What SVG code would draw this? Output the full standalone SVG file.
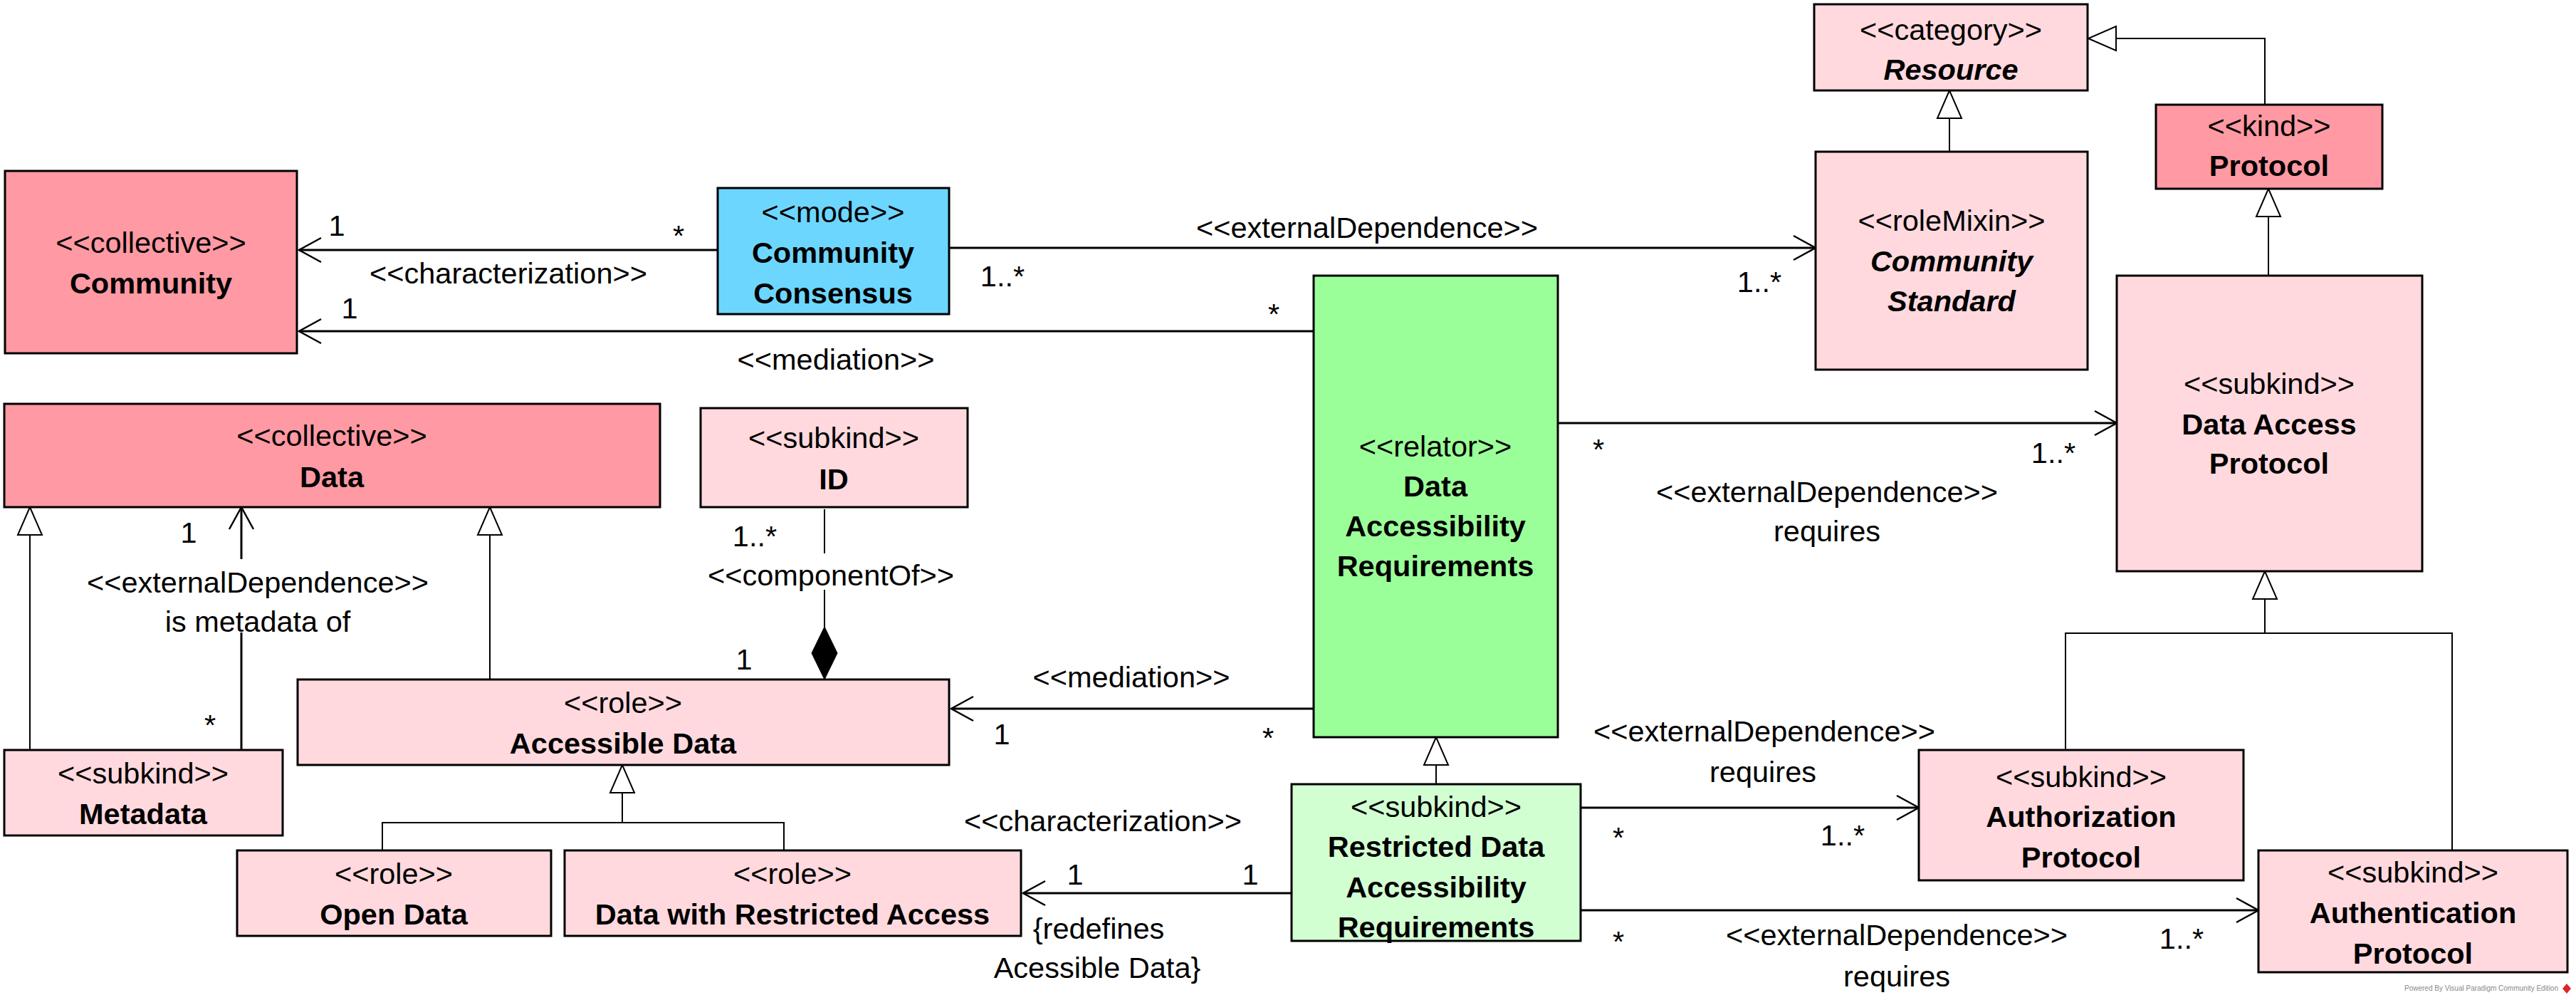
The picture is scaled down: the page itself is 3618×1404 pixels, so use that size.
<svg xmlns="http://www.w3.org/2000/svg" width="3618" height="1404" viewBox="0 0 3618 1404">
<style>
text{font-family:"Liberation Sans",Arial,Helvetica,sans-serif;font-size:41.5px;fill:#000}
.c{text-anchor:middle}
.b{font-weight:bold}
.bi{font-weight:bold;font-style:italic}
.box{stroke:#000;stroke-width:3}
.salmon{fill:#FF99A3}
.pink{fill:#FFD9DE}
.blue{fill:#6DD6FF}
.green{fill:#9BFF99}
.lgreen{fill:#D2FFD2}
.assoc{fill:none;stroke:#000;stroke-width:3}
.gen{fill:none;stroke:#000;stroke-width:2}
.wm{font-size:10px;fill:#8a8a8a;text-anchor:end}
</style>
<defs>
<marker id="open" markerUnits="userSpaceOnUse" orient="auto" overflow="visible" refX="0" refY="0" markerWidth="1" markerHeight="1">
<path d="M-31,-17 L0,0 L-31,17" fill="none" stroke="#000" stroke-width="2.5"/>
</marker>
<marker id="tri" markerUnits="userSpaceOnUse" orient="auto" overflow="visible" refX="0" refY="0" markerWidth="1" markerHeight="1">
<path d="M0,0 L-39,-17 L-39,17 Z" fill="#fff" stroke="#000" stroke-width="2"/>
</marker>
<marker id="diamond" markerUnits="userSpaceOnUse" orient="auto" overflow="visible" refX="0" refY="0" markerWidth="1" markerHeight="1">
<path d="M0,0 L-37,-18 L-74,0 L-37,18 Z" fill="#000" stroke="#000" stroke-width="1"/>
</marker>
</defs>
<rect x="0" y="0" width="3618" height="1404" fill="#fff"/>

<g id="connectors">
<!-- characterization Consensus -> Community -->
<path class="assoc" d="M1008,351 L420,351" marker-end="url(#open)"/>
<text class="c" x="473" y="331">1</text>
<text class="c" x="953" y="345">*</text>
<text class="c" x="714" y="398">&lt;&lt;characterization&gt;&gt;</text>
<!-- mediation Relator -> Community -->
<path class="assoc" d="M1845,465 L420,465" marker-end="url(#open)"/>
<text class="c" x="491" y="447">1</text>
<text class="c" x="1789" y="455">*</text>
<text class="c" x="1174" y="519">&lt;&lt;mediation&gt;&gt;</text>
<!-- externalDependence Consensus -> Community Standard -->
<path class="assoc" d="M1333,348 L2550,348" marker-end="url(#open)"/>
<text class="c" x="1408" y="402">1..*</text>
<text class="c" x="2471" y="410">1..*</text>
<text class="c" x="1920" y="334">&lt;&lt;externalDependence&gt;&gt;</text>
<!-- externalDependence Relator -> Data Access Protocol -->
<path class="assoc" d="M2188,594 L2973,594" marker-end="url(#open)"/>
<text class="c" x="2245" y="645">*</text>
<text class="c" x="2884" y="650">1..*</text>
<text class="c" x="2566" y="705">&lt;&lt;externalDependence&gt;&gt;</text>
<text class="c" x="2566" y="760">requires</text>
<!-- externalDependence Metadata -> Data -->
<path class="assoc" d="M339,785 L339,712" marker-end="url(#open)"/>
<path class="assoc" d="M339,1053 L339,888"/>
<text class="c" x="265" y="762">1</text>
<text class="c" x="295" y="1032">*</text>
<text class="c" x="362" y="832">&lt;&lt;externalDependence&gt;&gt;</text>
<text class="c" x="362" y="887">is metadata of</text>
<!-- generalizations to Data -->
<path class="gen" d="M42,1053 L42,712" marker-end="url(#tri)"/>
<path class="gen" d="M688,954 L688,712" marker-end="url(#tri)"/>
<!-- componentOf ID -> Accessible Data -->
<path class="gen" d="M1158,715 L1158,777"/>
<path class="gen" d="M1158,828 L1158,954" marker-end="url(#diamond)"/>
<text class="c" x="1060" y="767">1..*</text>
<text class="c" x="1167" y="822">&lt;&lt;componentOf&gt;&gt;</text>
<text class="c" x="1045" y="940">1</text>
<!-- mediation Relator -> Accessible Data -->
<path class="assoc" d="M1845,995 L1336,995" marker-end="url(#open)"/>
<text class="c" x="1407" y="1045">1</text>
<text class="c" x="1781" y="1050">*</text>
<text class="c" x="1589" y="965">&lt;&lt;mediation&gt;&gt;</text>
<!-- generalization set Open Data / Data with Restricted Access -> Accessible Data -->
<path class="gen" d="M874,1155 L874,1074" marker-end="url(#tri)"/>
<path class="gen" d="M537,1194 L537,1155 L1101,1155 L1101,1194"/>
<!-- characterization Restricted -> Data with Restricted Access -->
<path class="assoc" d="M1814,1254 L1437,1254" marker-end="url(#open)"/>
<text class="c" x="1510" y="1242">1</text>
<text class="c" x="1756" y="1242">1</text>
<text class="c" x="1549" y="1167">&lt;&lt;characterization&gt;&gt;</text>
<text class="c" x="1543" y="1318">{redefines</text>
<text class="c" x="1541" y="1373">Acessible Data}</text>
<!-- generalization Restricted -> Relator -->
<path class="gen" d="M2017,1101 L2017,1035" marker-end="url(#tri)"/>
<!-- externalDependence Restricted -> Authorization -->
<path class="assoc" d="M2220,1134 L2695,1134" marker-end="url(#open)"/>
<text class="c" x="2273" y="1190">*</text>
<text class="c" x="2588" y="1187">1..*</text>
<text class="c" x="2478" y="1041">&lt;&lt;externalDependence&gt;&gt;</text>
<text class="c" x="2476" y="1098">requires</text>
<!-- externalDependence Restricted -> Authentication -->
<path class="assoc" d="M2220,1278 L3172,1278" marker-end="url(#open)"/>
<text class="c" x="2273" y="1336">*</text>
<text class="c" x="3064" y="1332">1..*</text>
<text class="c" x="2664" y="1327">&lt;&lt;externalDependence&gt;&gt;</text>
<text class="c" x="2664" y="1385">requires</text>
<!-- generalization set Authorization / Authentication -> Data Access Protocol -->
<path class="gen" d="M3181,889 L3181,802" marker-end="url(#tri)"/>
<path class="gen" d="M2901,1053 L2901,889 L3444,889 L3444,1194"/>
<!-- generalization Data Access Protocol -> Protocol -->
<path class="gen" d="M3186,387 L3186,265" marker-end="url(#tri)"/>
<!-- generalization Protocol -> Resource -->
<path class="gen" d="M3181,147 L3181,54 L2933,54" marker-end="url(#tri)"/>
<!-- generalization Community Standard -> Resource -->
<path class="gen" d="M2738,213 L2738,127" marker-end="url(#tri)"/>
</g>

<g id="community">
<rect class="box salmon" x="7" y="240" width="410" height="256"/>
<text class="c" x="212" y="355">&lt;&lt;collective&gt;&gt;</text>
<text class="c b" x="212" y="412">Community</text>
</g>
<g id="community-consensus">
<rect class="box blue" x="1008" y="264" width="325" height="177"/>
<text class="c" x="1170" y="312">&lt;&lt;mode&gt;&gt;</text>
<text class="c b" x="1170" y="369">Community</text>
<text class="c b" x="1170" y="426">Consensus</text>
</g>
<g id="resource">
<rect class="box pink" x="2548" y="6" width="384" height="121"/>
<text class="c" x="2740" y="56">&lt;&lt;category&gt;&gt;</text>
<text class="c bi" x="2740" y="112">Resource</text>
</g>
<g id="protocol">
<rect class="box salmon" x="3028" y="147" width="318" height="118"/>
<text class="c" x="3187" y="191">&lt;&lt;kind&gt;&gt;</text>
<text class="c b" x="3187" y="247">Protocol</text>
</g>
<g id="community-standard">
<rect class="box pink" x="2550" y="213" width="382" height="306"/>
<text class="c" x="2741" y="324">&lt;&lt;roleMixin&gt;&gt;</text>
<text class="c bi" x="2741" y="381">Community</text>
<text class="c bi" x="2741" y="437">Standard</text>
</g>
<g id="data-accessibility-requirements">
<rect class="box green" x="1845" y="387" width="343" height="648"/>
<text class="c" x="2016" y="641">&lt;&lt;relator&gt;&gt;</text>
<text class="c b" x="2016" y="697">Data</text>
<text class="c b" x="2016" y="753">Accessibility</text>
<text class="c b" x="2016" y="809">Requirements</text>
</g>
<g id="data-access-protocol">
<rect class="box pink" x="2973" y="387" width="429" height="415"/>
<text class="c" x="3187" y="553">&lt;&lt;subkind&gt;&gt;</text>
<text class="c b" x="3187" y="610">Data Access</text>
<text class="c b" x="3187" y="665">Protocol</text>
</g>
<g id="data">
<rect class="box salmon" x="6" y="567" width="921" height="145"/>
<text class="c" x="466" y="626">&lt;&lt;collective&gt;&gt;</text>
<text class="c b" x="466" y="684">Data</text>
</g>
<g id="id">
<rect class="box pink" x="984" y="573" width="375" height="139"/>
<text class="c" x="1171" y="629">&lt;&lt;subkind&gt;&gt;</text>
<text class="c b" x="1171" y="687">ID</text>
</g>
<g id="accessible-data">
<rect class="box pink" x="418" y="954" width="915" height="120"/>
<text class="c" x="875" y="1001">&lt;&lt;role&gt;&gt;</text>
<text class="c b" x="875" y="1058">Accessible Data</text>
</g>
<g id="metadata">
<rect class="box pink" x="6" y="1053" width="391" height="120"/>
<text class="c" x="201" y="1100">&lt;&lt;subkind&gt;&gt;</text>
<text class="c b" x="201" y="1157">Metadata</text>
</g>
<g id="open-data">
<rect class="box pink" x="333" y="1194" width="441" height="120"/>
<text class="c" x="553" y="1241">&lt;&lt;role&gt;&gt;</text>
<text class="c b" x="553" y="1298">Open Data</text>
</g>
<g id="data-with-restricted-access">
<rect class="box pink" x="793" y="1194" width="641" height="120"/>
<text class="c" x="1113" y="1241">&lt;&lt;role&gt;&gt;</text>
<text class="c b" x="1113" y="1298">Data with Restricted Access</text>
</g>
<g id="restricted-data-accessibility-requirements">
<rect class="box lgreen" x="1814" y="1101" width="406" height="220"/>
<text class="c" x="2017" y="1147">&lt;&lt;subkind&gt;&gt;</text>
<text class="c b" x="2017" y="1203">Restricted Data</text>
<text class="c b" x="2017" y="1260">Accessibility</text>
<text class="c b" x="2017" y="1316">Requirements</text>
</g>
<g id="authorization-protocol">
<rect class="box pink" x="2695" y="1053" width="456" height="183"/>
<text class="c" x="2923" y="1105">&lt;&lt;subkind&gt;&gt;</text>
<text class="c b" x="2923" y="1161">Authorization</text>
<text class="c b" x="2923" y="1218">Protocol</text>
</g>
<g id="authentication-protocol">
<rect class="box pink" x="3172" y="1194" width="434" height="171"/>
<text class="c" x="3389" y="1239">&lt;&lt;subkind&gt;&gt;</text>
<text class="c b" x="3389" y="1296">Authentication</text>
<text class="c b" x="3389" y="1353">Protocol</text>
</g>
<g id="watermark">
<text class="wm" x="3593" y="1391">Powered By Visual Paradigm Community Edition</text>
<path d="M3605,1381 L3611,1388 L3605,1395 L3599,1388 Z" fill="#d9262c"/>
</g>
</svg>
